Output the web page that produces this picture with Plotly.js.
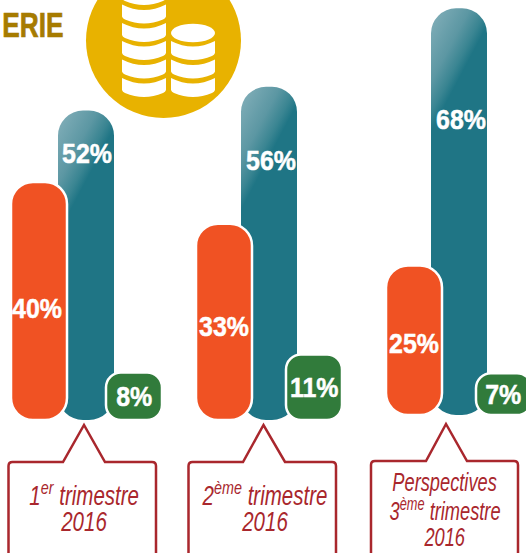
<!DOCTYPE html>
<html>
<head>
<meta charset="utf-8">
<script src="https://cdn.plot.ly/plotly-3.0.1.min.js"></script>
<style>html,body{margin:0;padding:0;background:#fff;overflow:hidden}#chart{width:526px;height:553px}</style>
</head>
<body>
<div id="chart"></div>
<script>
// ---- data ----
const categories = ['T1 2016', 'T2 2016', 'T3 2016'];
const calloutLines = [
  ['1<sup>er</sup> trimestre', '2016'],
  ['2<sup>ème</sup> trimestre', '2016'],
  ['Perspectives', '3<sup>ème</sup> trimestre', '2016']
];
const orangeValues = [40, 33, 25];
const tealValues = [52, 56, 68];
const greenValues = [8, 11, 7];
const headingText = 'ERIE';

// ---- layout constants (pixels) ----
const W = 526, H = 553;
const FONT = '"Liberation Sans",Arial,sans-serif';
const UNIT = 186.5, ZERO_X = 86;
const BAR_W = 56;
const ORANGE = '#F05223', TEAL = '#1F7585', GREEN = '#317B3B', RED = '#A9272D';
const leftPx = {orange: [11, 196, 386], teal: [58, 241, 431], green: [106, 286, 476]};
const labelPx = {orange: [37, 224, 414], teal: [87, 271, 461], green: [134, 314, 503]};
const labelDy = {orange: [7, 5, 3], teal: [43, 74, 111], green: [0, 0, 0]};
const radius = {orange: 22, teal: 25, green: 15};
const calloutGeom = [
  {l: 8.5, r: 156, top: 462, a: 84, p0: 63, p1: 105, ay: 425, cx: 84, ys: [494, 522], size: 27, sx: 0.76},
  {l: 188.5, r: 336, top: 462, a: 263.5, p0: 243, p1: 285, ay: 425, cx: 264.5, ys: [494, 522], size: 27, sx: 0.76},
  {l: 371, r: 518, top: 461, a: 446, p0: 426, p1: 467, ay: 424, cx: 444.5, ys: [482, 510, 537], size: 25, sx: 0.73}
];

const px = v => v / W, py = v => 1 - v / H;
const P = (x, y) => px(x).toFixed(5) + ',' + py(y).toFixed(5);
const catCenter = i => ZERO_X + UNIT * i;

// ---- traces ----
function barTrace(name, values, color, idxs, yaxis) {
  return {
    type: 'bar', name: name, meta: name,
    x: idxs.map(i => categories[i]),
    y: idxs.map(i => values[i]),
    width: idxs.map(() => BAR_W / UNIT),
    offset: idxs.map(i => (leftPx[name][i] - catCenter(i)) / UNIT),
    marker: {color: color, cornerradius: radius[name],
             line: {color: '#fff', width: name === 'teal' ? 0 : 2.5}},
    yaxis: yaxis, hoverinfo: 'skip', showlegend: false
  };
}
const traces = [];
[[[0, 1], 'y'], [[2], 'y2']].forEach(([idxs, ax]) => {
  traces.push(barTrace('teal', tealValues, TEAL, idxs, ax));
  traces.push(barTrace('orange', orangeValues, ORANGE, idxs, ax));
  traces.push(barTrace('green', greenValues, GREEN, idxs, ax));
});

// ---- shapes ----
const shapes = [];
shapes.push({type: 'circle', xref: 'paper', yref: 'paper', layer: 'below',
  x0: px(86), x1: px(241), y0: py(118), y1: py(-37), fillcolor: '#E8B200', line: {width: 0}});

function coinBand(cx, yt) {
  const l = cx - 22, r = cx + 22, yb = yt + 12;
  return 'M' + P(l, yt) + ' Q' + P(cx, yt + 11) + ' ' + P(r, yt) + ' L' + P(r, yb) +
         ' Q' + P(r - 0.5, yb + 2) + ' ' + P(r - 3, yb + 3) +
         ' Q' + P(cx, yb + 11) + ' ' + P(l + 3, yb + 3) +
         ' Q' + P(l + 0.5, yb + 2) + ' ' + P(l, yb) + ' Z';
}
function coinTop(cx, yc) {
  const l = cx - 22, r = cx + 22, k = 0.5523, ry = 9.3, rx = 22;
  return 'M' + P(l, yc) +
    ' C' + P(l, yc - k * ry) + ' ' + P(cx - k * rx, yc - ry) + ' ' + P(cx, yc - ry) +
    ' C' + P(cx + k * rx, yc - ry) + ' ' + P(r, yc - k * ry) + ' ' + P(r, yc) +
    ' C' + P(r, yc + k * ry) + ' ' + P(cx + k * rx, yc + ry) + ' ' + P(cx, yc + ry) +
    ' C' + P(cx - k * rx, yc + ry) + ' ' + P(l, yc + k * ry) + ' ' + P(l, yc) + ' Z';
}
const coinPaths = [];
[78, 59.5, 41, 23, 4.5, -14].forEach(y => coinPaths.push(coinBand(144, y)));
[78, 59.5, 41].forEach(y => coinPaths.push(coinBand(193, y)));
coinPaths.push(coinTop(193, 33));
coinPaths.forEach(path => shapes.push({type: 'path', xref: 'paper', yref: 'paper', layer: 'below',
  path: path, fillcolor: '#fff', line: {width: 0}}));

calloutGeom.forEach(g => {
  const b = H + 20, c = 4;
  const path = 'M' + P(g.l, b) + ' L' + P(g.l, g.top + c) + ' Q' + P(g.l, g.top) + ' ' + P(g.l + c, g.top) +
    ' L' + P(g.p0, g.top) + ' L' + P(g.a, g.ay) + ' L' + P(g.p1, g.top) + ' L' + P(g.r - c, g.top) +
    ' Q' + P(g.r, g.top) + ' ' + P(g.r, g.top + c) + ' L' + P(g.r, b);
  shapes.push({type: 'path', xref: 'paper', yref: 'paper', path: path,
    line: {color: RED, width: 2.5}, fillcolor: 'rgba(0,0,0,0)'});
});

// ---- annotations (with the horizontal squeeze each one needs: no narrow font is installed) ----
const annotations = [], squeeze = [], heavy = [];
[['orange', orangeValues], ['teal', tealValues], ['green', greenValues]].forEach(([name, vals]) => {
  vals.forEach((v, i) => {
    const top = name === 'teal';
    annotations.push({
      xref: 'x', yref: i === 2 ? 'y2' : 'y', x: categories[i], y: top ? v : v / 2,
      xshift: labelPx[name][i] - catCenter(i), yshift: -labelDy[name][i],
      text: '<b>' + v + '%</b>', showarrow: false, xanchor: 'center', yanchor: 'middle',
      font: {family: FONT, size: 28, color: '#fff'}
    });
    squeeze.push(0.89); heavy.push(0.5);
  });
});
calloutGeom.forEach((g, i) => {
  calloutLines[i].forEach((line, j) => {
    annotations.push({
      xref: 'paper', yref: 'paper', x: px(g.cx), y: py(g.ys[j]), text: '<i>' + line + '</i>',
      showarrow: false, xanchor: 'center', yanchor: 'middle', align: 'center',
      font: {family: FONT, size: g.size, color: RED}
    });
    squeeze.push(g.sx); heavy.push(0);
  });
});
annotations.push({
  xref: 'paper', yref: 'paper', x: px(32.5), y: py(24.5), text: '<b>' + headingText + '</b>',
  showarrow: false, xanchor: 'center', yanchor: 'middle',
  font: {family: FONT, size: 35, color: '#A67B00'}
});
squeeze.push(0.75); heavy.push(0.7);

const layout = {
  width: W, height: H, autosize: false,
  margin: {l: 0, r: 0, t: 0, b: 0, pad: 0},
  paper_bgcolor: '#fff', plot_bgcolor: '#fff',
  barmode: 'overlay', showlegend: false,
  xaxis: {type: 'category', categoryorder: 'array', categoryarray: categories, visible: false,
          range: [-ZERO_X / UNIT, (W - ZERO_X) / UNIT], fixedrange: true},
  yaxis: {visible: false, range: [-133 / 5.95, 420 / 5.95], fixedrange: true},
  yaxis2: {visible: false, overlaying: 'y', range: [-138 / 5.98, 415 / 5.98], fixedrange: true},
  shapes: shapes, annotations: annotations
};

Plotly.newPlot('chart', traces, layout, {displayModeBar: false, responsive: false}).then(gd => {
  // Round the base end of each bar as well and give the teal bars their sheen.
  const NS = 'http://www.w3.org/2000/svg';
  const defs = gd.querySelector('.main-svg defs');
  let n = 0;
  gd.querySelectorAll('.barlayer .trace.bars').forEach(tr => {
    const name = tr.__data__[0].trace.meta;
    tr.querySelectorAll('.point path').forEach(p => {
      const b = p.getBBox();
      const r = radius[name], x0 = b.x, x1 = b.x + b.width, y0 = b.y, y1 = b.y + b.height;
      p.setAttribute('d', `M${x0},${y0 + r}A${r},${r} 0 0 1 ${x0 + r},${y0}H${x1 - r}A${r},${r} 0 0 1 ${x1},${y0 + r}` +
        `V${y1 - r}A${r},${r} 0 0 1 ${x1 - r},${y1}H${x0 + r}A${r},${r} 0 0 1 ${x0},${y1 - r}Z`);
      if (name === 'teal') {
        const id = 'tealSheen' + (n++);
        const g = document.createElementNS(NS, 'linearGradient');
        g.setAttribute('id', id);
        g.setAttribute('gradientUnits', 'userSpaceOnUse');
        g.setAttribute('x1', x0); g.setAttribute('y1', y0);
        g.setAttribute('x2', x0 + 51); g.setAttribute('y2', y0 + 27);
        [[0, '#86B1BB'], [0.6, '#5C97A3'], [0.85, '#3A8592'], [1, TEAL]].forEach(([o, c]) => {
          const s = document.createElementNS(NS, 'stop');
          s.setAttribute('offset', o); s.setAttribute('stop-color', c);
          g.appendChild(s);
        });
        defs.appendChild(g);
        p.style.fill = 'url(#' + id + ')';
      }
    });
  });
  // Squeeze annotation text to the condensed widths of the reference.
  gd.querySelectorAll('.annotation').forEach(a => {
    const i = +a.getAttribute('data-index');
    const t = a.querySelector('text');
    if (!t || !squeeze[i]) return;
    const bb = t.getBBox(), c = bb.x + bb.width / 2;
    t.setAttribute('transform', `translate(${c},0) scale(${squeeze[i]},1) translate(${-c},0)`);
    if (heavy[i]) {
      t.style.stroke = annotations[i].font.color;
      t.style.strokeWidth = heavy[i] + 'px';
    }
  });
});
</script>
</body>
</html>
